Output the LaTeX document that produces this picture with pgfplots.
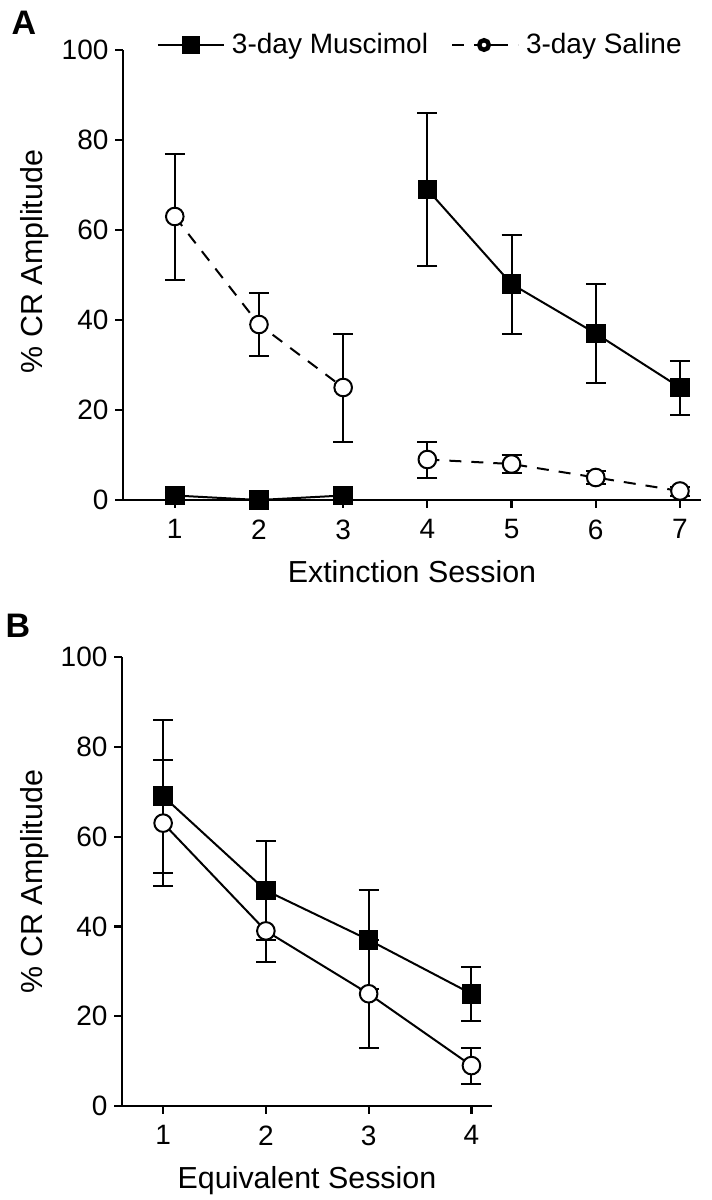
\documentclass[border=0pt]{standalone}
\usepackage{pgfplots}
\pgfplotsset{compat=1.18}
\usepackage{pgfplotstable}
\usepackage{fontspec}
\setmainfont{Liberation Sans}

\pgfplotstableread{
x y e
1 1 0.5
2 0 0.3
3 1 0.5
}\muscA
\pgfplotstableread{
x y e
4 69 17
5 48 11
6 37 11
7 25 6
}\muscB
\pgfplotstableread{
x y e
1 63 14
2 39 7
3 25 12
}\salA
\pgfplotstableread{
x y e
4 9 4
5 8 2
6 5 1.5
7 2 1
}\salB
\pgfplotstableread{
x y e
1 69 17
2 48 11
3 37 11
4 25 6
}\muscEq
\pgfplotstableread{
x y e
1 63 14
2 39 7
3 25 12
4 9 4
}\salEq

\pgfplotsset{
  panel/.style={
    scale only axis,
    axis x line*=bottom, axis y line*=left,
    ymin=0, ymax=100, ytick={0,20,...,100},
    tick align=outside,
    major tick length=3.75pt,
    axis line style={line width=1.1pt},
    every tick/.style={line width=1.1pt, black},
    tick label style={font=\fontsize{14}{16}\selectfont},
    xticklabel style={yshift=-2.5pt},
    label style={font=\fontsize{15.2}{17}\selectfont},
    /pgf/number format/assume math mode=true,
    ylabel={\% CR Amplitude},
    xlabel style={at={(axis description cs:0.5,0)}, anchor=base, yshift=-41pt},
    clip=false,
  },
  musc/.style={black, line width=1pt, mark=square*, mark size=4.4pt,
    mark options={solid, fill=black},
    error bars/.cd, y dir=both, y explicit,
    error bar style={line width=1pt, solid},
    error mark options={rotate=90, mark size=5pt, line width=1pt, solid}},
  sal/.style={black, line width=1pt, mark=*, mark size=4.4pt,
    mark options={solid, fill=white},
    error bars/.cd, y dir=both, y explicit,
    error bar style={line width=1pt, solid},
    error mark options={rotate=90, mark size=5pt, line width=1pt, solid}},
}

\begin{document}
\begin{tikzpicture}
\useasboundingbox (-61.5pt,250pt) rectangle (294.5pt,-350pt);
\begin{axis}[panel,
  at={(0pt,0pt)}, anchor=origin,
  width=289pt, height=225pt,
  xmin=0.385, xmax=7.25, xtick={1,...,7},
  xlabel={Extinction Session},
  ylabel style={at={(axis description cs:-0.140,0.53)}, anchor=base, rotate=0},
  legend style={draw=none, fill=none, inner sep=0pt, outer sep=0pt,
    at={(axis description cs:0.0588,1)}, anchor=west, yshift=2.5pt,
    font=\fontsize{14}{16}\selectfont, legend columns=2,
    nodes={inner sep=0pt},
    /tikz/every odd column/.append style={column sep=3.5pt},
    /tikz/every even column/.append style={column sep=11.5pt}},
]
\addplot[legend image code/.code={
    \draw[line width=1pt, solid] (0pt,0pt) -- (33pt,0pt);
    \fill[black] (12.5pt,-4pt) rectangle (20.5pt,4pt);},
  musc] table[x=x,y=y,y error=e] {\muscA};
\addlegendentry{3-day Muscimol}
\addplot[legend image code/.code={
    \path (0pt,0pt) -- (33pt,0pt);
    \draw[line width=1pt, solid] (0pt,0pt) -- (6pt,0pt);
    \draw[line width=1pt, solid] (16pt,0pt) -- (27.5pt,0pt);
    \draw[line width=2.2pt, solid, fill=white] (16pt,0pt) circle (2.4pt);},
  dash pattern=on 6pt off 5pt, sal] table[x=x,y=y,y error=e] {\salA};
\addlegendentry{3-day Saline}
\addplot[forget plot, musc] table[x=x,y=y,y error=e] {\muscB};
\addplot[forget plot, dash pattern=on 6pt off 5pt, sal] table[x=x,y=y,y error=e] {\salB};
\end{axis}
\begin{axis}[panel,
  at={(-0.5pt,-303pt)}, anchor=origin,
  width=185pt, height=224.5pt,
  xmin=0.6, xmax=4.2, xtick={1,...,4},
  xlabel={Equivalent Session},
  ylabel style={at={(axis description cs:-0.216,0.5)}, anchor=base, rotate=0},
]
\addplot[musc] table[x=x,y=y,y error=e] {\muscEq};
\addplot[sal] table[x=x,y=y,y error=e] {\salEq};
\end{axis}
\node[font=\bfseries\fontsize{17}{17}\selectfont] at (-49.5pt,238.5pt) {A};
\node[font=\bfseries\fontsize{17}{17}\selectfont] at (-52.5pt,-63pt) {B};
\end{tikzpicture}
\end{document}
